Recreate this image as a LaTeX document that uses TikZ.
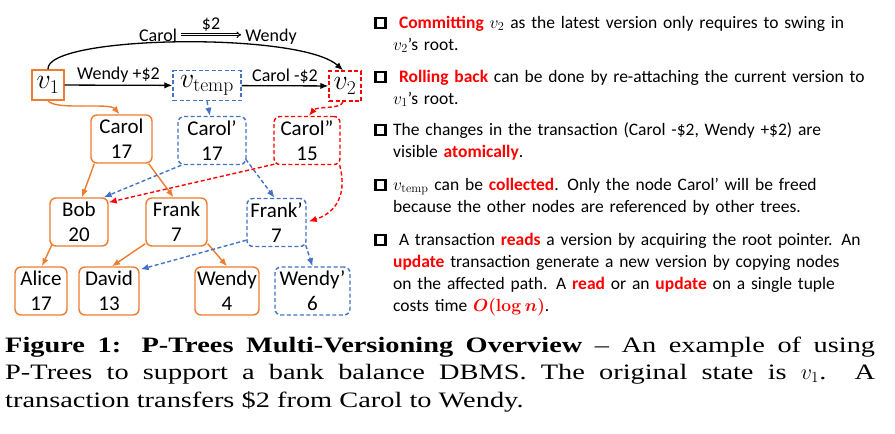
\RequirePackage{fix-cm}
\documentclass[tikz,border=0pt]{standalone}
\usepackage[no-math]{fontspec}
\setmainfont{Carlito}
\newfontfamily\capfont[FakeStretch=1.29]{Liberation Serif}
\usetikzlibrary{arrows.meta,calc}
\definecolor{orn}{RGB}{237,125,49}
\definecolor{blu}{RGB}{68,114,196}
\definecolor{rd}{RGB}{255,0,0}
\begin{document}
\begin{tikzpicture}[x=1pt,y=-1pt,
  tn/.style={rounded corners=6pt,line width=1.4pt,align=center,
    font=\fontsize{21}{25}\selectfont,minimum height=48pt,inner xsep=1pt,inner ysep=0pt},
  onode/.style={tn,draw=orn},
  bnode/.style={tn,draw=blu,dash pattern=on 4pt off 2.5pt},
  rnode/.style={tn,draw=rd,dash pattern=on 4pt off 2.5pt},
  vb/.style={line width=1.4pt,inner sep=0pt,minimum height=30pt,font=\fontsize{28}{30}\selectfont},
  tip/.style={-{Latex[length=8pt,width=6.5pt]}},
  oedge/.style={draw=orn,line width=1.4pt,tip},
  bedge/.style={draw=blu,line width=1.4pt,dash pattern=on 4pt off 2.5pt,tip},
  redge/.style={draw=rd,line width=1.4pt,dash pattern=on 4pt off 2.5pt,tip},
  kedge/.style={draw=black,line width=1.3pt,tip},
  lbl/.style={font=\fontsize{18}{20}\selectfont,inner sep=2pt},
  para/.style={anchor=base west,text width=495pt,align=left,inner sep=0pt,
    font=\fontsize{17.5}{22}\selectfont},
  bsq/.style={line width=2.2pt}
]
\path[use as bounding box,fill=white] (0,0) rectangle (895,434);

% version roots
\node[vb,draw=orn,minimum width=32pt] (v1) at (48,85) {$v_1$};
\node[vb,draw=blu,dash pattern=on 4pt off 2.5pt,minimum width=68pt] (vt) at (207,85.5) {$v_{\mathrm{temp}}$};
\node[vb,draw=rd,dash pattern=on 4pt off 2.5pt,minimum width=32pt] (v2) at (345,86) {$v_2$};

\draw[kedge] (v1) -- node[lbl,above] {Wendy +\$2} (vt);
\draw[kedge] (vt) -- node[lbl,above] {Carol -\$2} (v2);
\draw[kedge] (v1.north) .. controls ($(v1.north)+(-3,-34)$) and ($(v2.north)+(-45,-39)$) .. ($(v2.north)+(-2,0)$);

\node[lbl,anchor=base] (carT) at (158,41) {Carol};
\node[lbl,anchor=base] (wenT) at (271,41) {Wendy};
\draw[double,double distance=1.1pt,line width=1pt,-{Implies}] ($(carT.east)+(2,0)$) -- node[lbl,above=1pt] {\$2} ($(carT.east -| wenT.west)+(-2,0)$);

% tree nodes
\node[onode,minimum width=61pt] (carol) at (121.5,139) {Carol\\17};
\node[bnode,minimum width=68pt] (carolp) at (212,140.5) {Carol’\\17};
\node[rnode,minimum width=66pt] (carolpp) at (307,140.5) {Carol”\\15};
\node[onode,minimum width=58pt] (bob) at (79,222) {Bob\\20};
\node[onode,minimum width=61pt] (frank) at (176.5,222) {Frank\\7};
\node[bnode,minimum width=59pt] (frankp) at (276.5,222.5) {Frank’\\7};
\node[onode,minimum width=52pt] (alice) at (41,291) {Alice\\17};
\node[onode,minimum width=60pt] (david) at (109,291) {David\\13};
\node[onode,minimum width=64pt] (wendy) at (227,291) {Wendy\\4};
\node[bnode,minimum width=75pt] (wendyp) at (312.5,291) {Wendy’\\6};

% root pointers
\draw[oedge] (v1.south) .. controls ($(v1.south)+(7,10)$) and ($(carol.north)+(-12,-12)$) .. ($(carol.north)+(-2,0)$);
\draw[bedge] (vt.south) -- ($(carolp.north)+(-2,0)$);
\draw[redge] ($(v2.south)+(-2,0)$) .. controls ($(v2.south)+(-4,8)$) and ($(carolpp.north)+(10,-10)$) .. ($(carolpp.north)+(2,0)$);

% tree edges
\draw[oedge] ($(carol.south west)+(4,0)$) -- ($(bob.north)+(3,0)$);
\draw[oedge] ($(carol.south east)+(-4,0)$) -- ($(frank.north)+(-3,0)$);
\draw[bedge] ($(carolp.south west)+(4,0)$) -- ($(bob.north east)+(-5,0)$);
\draw[bedge] ($(carolp.south east)+(-1,-6)$) -- ($(frankp.north)+(-2,0)$);
\draw[redge] ($(carolpp.south west)+(1,-1)$) -- ($(bob.north east)+(0,5)$);
\draw[redge] ($(carolpp.south east)+(-1,0)$) .. controls ($(carolpp.south east)+(8,35)$) and ($(frankp.east)+(24,-8)$) .. ($(frankp.east)+(2,-1)$);
\draw[oedge] ($(bob.south west)+(3,-3)$) -- ($(alice.north)+(1,0)$);
\draw[oedge] ($(frank.south west)+(0,-3)$) -- ($(david.north)+(3,0)$);
\draw[oedge] ($(frank.south east)+(0,-3)$) -- (wendy.north);
\draw[bedge] ($(frankp.south west)+(0,-7)$) -- ($(david.north east)+(1,3)$);
\draw[bedge] ($(frankp.south east)+(-1,-2)$) -- (wendyp.north);

% bullets
\foreach \b in {28,82,135,190,245}
  \draw[bsq] (375.5,\b-10) rectangle (385.5,\b);

\node[para] (p1) at (393,28) {\ \textcolor{rd}{\textbf{Committing}} $v_2$ as the latest version only requires to swing in\\$v_2$’s root.};
\node[para] (p2) at (393,82) {\ \textcolor{rd}{\textbf{Rolling back}} can be done by re-attaching the current version to\\$v_1$’s root.};
\node[para] (p3) at (393,135) {The changes in the transaction (Carol -\$2, Wendy +\$2) are\\visible \textcolor{rd}{\textbf{atomically}}.};
\node[para] (p4) at (393,190) {$v_{\mathrm{temp}}$ can be \textcolor{rd}{\textbf{collected}}. Only the node Carol’ will be freed\\because the other nodes are referenced by other trees.};
\node[para] (p5) at (393,245) {\ A transaction \textcolor{rd}{\textbf{reads}} a version by acquiring the root pointer. An\\\textcolor{rd}{\textbf{update}} transaction generate a new version by copying nodes\\on the affected path. A \textcolor{rd}{\textbf{read}} or an \textcolor{rd}{\textbf{update}} on a single tuple\\costs time \textcolor{rd}{\boldmath$O(\log n)$}.};

% caption
\node[anchor=base west,text width=870pt,align=justify,inner sep=0pt,
  font=\capfont\fontsize{22}{27.5}\selectfont] (cap) at (5,352)
  {\textbf{Figure 1: P-Trees Multi-Versioning Overview} – An example of using\linebreak
   P-Trees to support a bank balance DBMS. The original state is $v_1$.\ \ A\linebreak
   transaction transfers \$2 from Carol to Wendy.};
\end{tikzpicture}
\end{document}
